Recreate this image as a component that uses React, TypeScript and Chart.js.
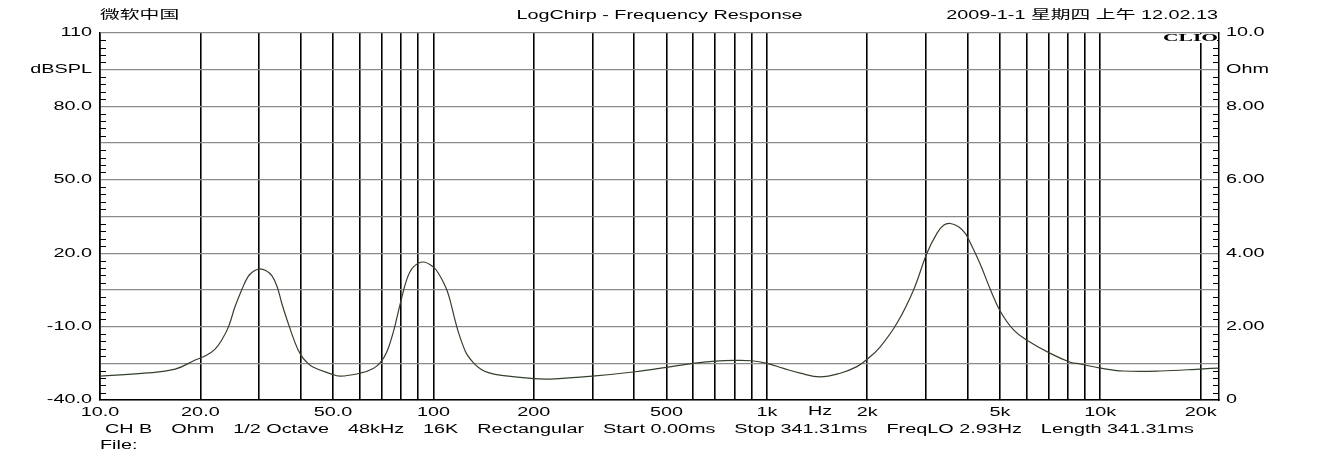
import React, { useEffect, useRef } from 'react';
import { Chart, registerables } from 'chart.js';

Chart.register(...registerables);

// ---- data ----
const freqHz = [
  10, 13.6, 16.8, 19.3, 20.8, 22.1, 23.2, 24.3, 25.4, 26.6, 27.8, 28.8, 30, 31.5, 32.8, 34, 35.1, 36.4,
  38.5, 40, 41.5, 43.5, 49, 52.5, 60.3, 66, 69.2, 72.4, 75.8, 79.4, 83.3, 87, 93.1, 100, 104, 107.2,
  110.2, 112.9, 115.9, 118.8, 121.9, 125.9, 132.3, 138.8, 147, 160, 200, 224, 300, 403, 500, 600, 700,
  800, 900, 1000, 1122, 1259, 1445, 1660, 1862, 2000, 2188, 2455, 2754, 3020, 3236, 3388, 3548, 3758,
  3936, 4027, 4365, 4677, 5012, 5495, 6026, 7079, 8128, 8710, 10000, 11720, 15140, 20370, 22600,
];
const impedanceOhm = [
  0.65, 0.73, 0.84, 1.09, 1.21, 1.38, 1.64, 2.0, 2.54, 3.0, 3.36, 3.5, 3.57, 3.52, 3.38, 3.08, 2.63, 2.18,
  1.55, 1.23, 1.05, 0.9, 0.72, 0.65, 0.73, 0.86, 1.01, 1.3, 1.85, 2.6, 3.3, 3.62, 3.76, 3.62, 3.42, 3.2,
  2.95, 2.62, 2.2, 1.85, 1.55, 1.25, 1.0, 0.84, 0.74, 0.67, 0.58, 0.57, 0.65, 0.77, 0.89, 1.0, 1.06,
  1.08, 1.07, 1.0, 0.86, 0.73, 0.63, 0.73, 0.91, 1.11, 1.45, 2.09, 3.0, 4.0, 4.54, 4.76, 4.81, 4.72,
  4.54, 4.38, 3.7, 3.02, 2.42, 1.91, 1.63, 1.27, 1.03, 0.98, 0.87, 0.79, 0.79, 0.85, 0.87,
];

const xGridValues = [
  10, 20, 30, 40, 50, 60, 70, 80, 90,
  100, 200, 300, 400, 500, 600, 700, 800, 900,
  1000, 2000, 3000, 4000, 5000, 6000, 7000, 8000, 9000,
  10000, 20000,
];
const xLabelValues = [10, 20, 50, 100, 200, 500, 1000, 2000, 5000, 10000, 20000];
const xLabelTexts = ['10.0', '20.0', '50.0', '100', '200', '500', '1k', '2k', '5k', '10k', '20k'];

const leftTickValues = [-40, -25, -10, 5, 20, 35, 50, 65, 80, 95, 110];
const leftTickLabels = ['-40.0', '', '-10.0', '', '20.0', '', '50.0', '', '80.0', 'dBSPL', '110'];

const rightTickValues = [0, 1, 2, 3, 4, 5, 6, 7, 8, 9, 10];
const rightTickLabels = ['0', '', '2.00', '', '4.00', '', '6.00', '', '8.00', 'Ohm', '10.0'];

const headerLeft = '微软中国';
const headerCenter = 'LogChirp - Frequency Response';
const headerRight = '2009-1-1 星期四 上午 12.02.13';
const footerItems = ['CH B', 'Ohm', '1/2 Octave', '48kHz', '16K', 'Rectangular', 'Start 0.00ms', 'Stop 341.31ms', 'FreqLO 2.93Hz', 'Length 341.31ms'];
const fileLabel = 'File:';
const unitLabel = 'Hz';
const brandLabel = 'CLIO';

const TEXT_STRETCH = 1.65;
const FONT_FAMILY = '"Liberation Sans", Arial, "Noto Sans CJK SC", sans-serif';

const decorPlugin = {
  id: 'decor',
  afterDraw(chart: any) {
    const { ctx, chartArea: a, scales } = chart;
    const y = scales.y;
    const y1 = scales.y1;
    const x = scales.x;
    ctx.save();
    // minor ticks inside the plot on both vertical axes
    ctx.strokeStyle = '#000';
    ctx.lineWidth = 1;
    ctx.beginPath();
    for (let i = 0; i <= 50; i++) {
      if (i % 5 === 0) continue;
      const py = Math.round(y.getPixelForValue(-40 + i * 3)) + 0.5;
      ctx.moveTo(a.left, py);
      ctx.lineTo(a.left + 6, py);
      const py1 = Math.round(y1.getPixelForValue(i * 0.2)) + 0.5;
      ctx.moveTo(a.right, py1);
      ctx.lineTo(a.right - 6, py1);
    }
    ctx.stroke();

    ctx.fillStyle = '#000';
    ctx.font = `12px ${FONT_FAMILY}`;
    ctx.textBaseline = 'middle';
    ctx.textAlign = 'left';
    ctx.fillText(headerLeft, a.left, 16);
    ctx.textAlign = 'center';
    ctx.fillText(headerCenter, (a.left + a.right) / 2, 16);
    ctx.textAlign = 'right';
    ctx.fillText(headerRight, a.right - 1, 16);

    // unit label between 1k and 2k
    ctx.textAlign = 'center';
    const hzX = (x.getPixelForValue(1000) + x.getPixelForValue(2000)) / 2;
    ctx.fillText(unitLabel, hzX + 3, a.bottom + 12);

    // footer
    ctx.textAlign = 'left';
    let fx = a.left + 5;
    footerItems.forEach((item) => {
      ctx.fillText(item, fx, a.bottom + 30);
      fx += ctx.measureText(item).width * TEXT_STRETCH + 19;
    });
    ctx.fillText(fileLabel, a.left, a.bottom + 46);

    // brand
    const orig = (ctx as any).__origFillText;
    ctx.font = `bold 10px "Liberation Serif", serif`;
    const w = ctx.measureText(brandLabel).width * 2.15;
    ctx.fillStyle = '#fff';
    ctx.fillRect(a.right - 2 - w, a.top + 1, w, 9);
    ctx.fillStyle = '#000';
    ctx.save();
    ctx.translate(a.right - 1, a.top + 5);
    ctx.scale(2.15, 1);
    ctx.textAlign = 'right';
    orig(brandLabel, 0, 0);
    ctx.restore();
    ctx.restore();
  },
};

export default function App() {
  const ref = useRef<HTMLCanvasElement | null>(null);

  useEffect(() => {
    const canvas = ref.current;
    if (!canvas) return;
    const ctx = canvas.getContext('2d') as any;
    const origFill = ctx.fillText.bind(ctx);
    ctx.__origFillText = origFill;
    ctx.fillText = function (text: string, px: number, py: number) {
      ctx.save();
      ctx.translate(px, py);
      ctx.scale(TEXT_STRETCH, 1);
      origFill(text, 0, 0);
      ctx.restore();
    };

    const points = freqHz.map((f, i) => ({ x: f, y: impedanceOhm[i] }));

    const chart = new Chart(canvas, {
      type: 'line',
      data: {
        datasets: [
          {
            data: points,
            yAxisID: 'y1',
            borderColor: '#34402c',
            borderWidth: 1.2,
            pointRadius: 0,
            fill: false,
            tension: 0.4,
          },
        ],
      },
      options: {
        animation: false,
        responsive: false,
        devicePixelRatio: 1,
        layout: { padding: { top: 33, left: 0, right: 0, bottom: 0 } },
        plugins: { legend: { display: false }, tooltip: { enabled: false } },
        scales: {
          x: {
            type: 'logarithmic',
            min: 10,
            max: 22700,
            afterBuildTicks: (scale: any) => {
              scale.ticks = xGridValues.map((v) => ({ value: v }));
            },
            afterFit: (scale: any) => {
              scale.height = 67;
            },
            grid: { color: '#000', lineWidth: 1.6, drawTicks: false },
            border: { display: true, color: '#000', width: 1.5 },
            ticks: {
              autoSkip: false,
              maxRotation: 0,
              padding: 5,
              color: '#000',
              font: { family: FONT_FAMILY, size: 12 },
              callback: (value: any) => {
                const idx = xLabelValues.indexOf(Number(value));
                return idx >= 0 ? xLabelTexts[idx] : '';
              },
            },
          },
          y: {
            type: 'linear',
            position: 'left',
            min: -40,
            max: 110,
            afterBuildTicks: (scale: any) => {
              scale.ticks = leftTickValues.map((v) => ({ value: v }));
            },
            afterFit: (scale: any) => {
              scale.width = 100;
            },
            grid: { color: '#8a8a8a', lineWidth: 1.3, drawTicks: false },
            border: { display: true, color: '#000', width: 1.5 },
            ticks: {
              padding: 8,
              color: '#000',
              font: { family: FONT_FAMILY, size: 12 },
              callback: (value: any) => {
                const idx = leftTickValues.indexOf(Number(value));
                return idx >= 0 ? leftTickLabels[idx] : '';
              },
            },
          },
          y1: {
            type: 'linear',
            position: 'right',
            min: 0,
            max: 10,
            afterBuildTicks: (scale: any) => {
              scale.ticks = rightTickValues.map((v) => ({ value: v }));
            },
            afterFit: (scale: any) => {
              scale.width = 99;
            },
            grid: { display: false, drawTicks: false },
            border: { display: true, color: '#000', width: 1.5 },
            ticks: {
              padding: 7,
              color: '#000',
              font: { family: FONT_FAMILY, size: 12 },
              callback: (value: any) => {
                const idx = rightTickValues.indexOf(Number(value));
                return idx >= 0 ? rightTickLabels[idx] : '';
              },
            },
          },
        },
      } as any,
      plugins: [decorPlugin],
    });

    return () => {
      chart.destroy();
    };
  }, []);

  return (
    <div style={{ position: 'absolute', left: 0, top: 0, width: 1318, height: 467, background: '#fff' }}>
      <canvas ref={ref} width={1318} height={467} style={{ width: 1318, height: 467, display: 'block' }} />
    </div>
  );
}
